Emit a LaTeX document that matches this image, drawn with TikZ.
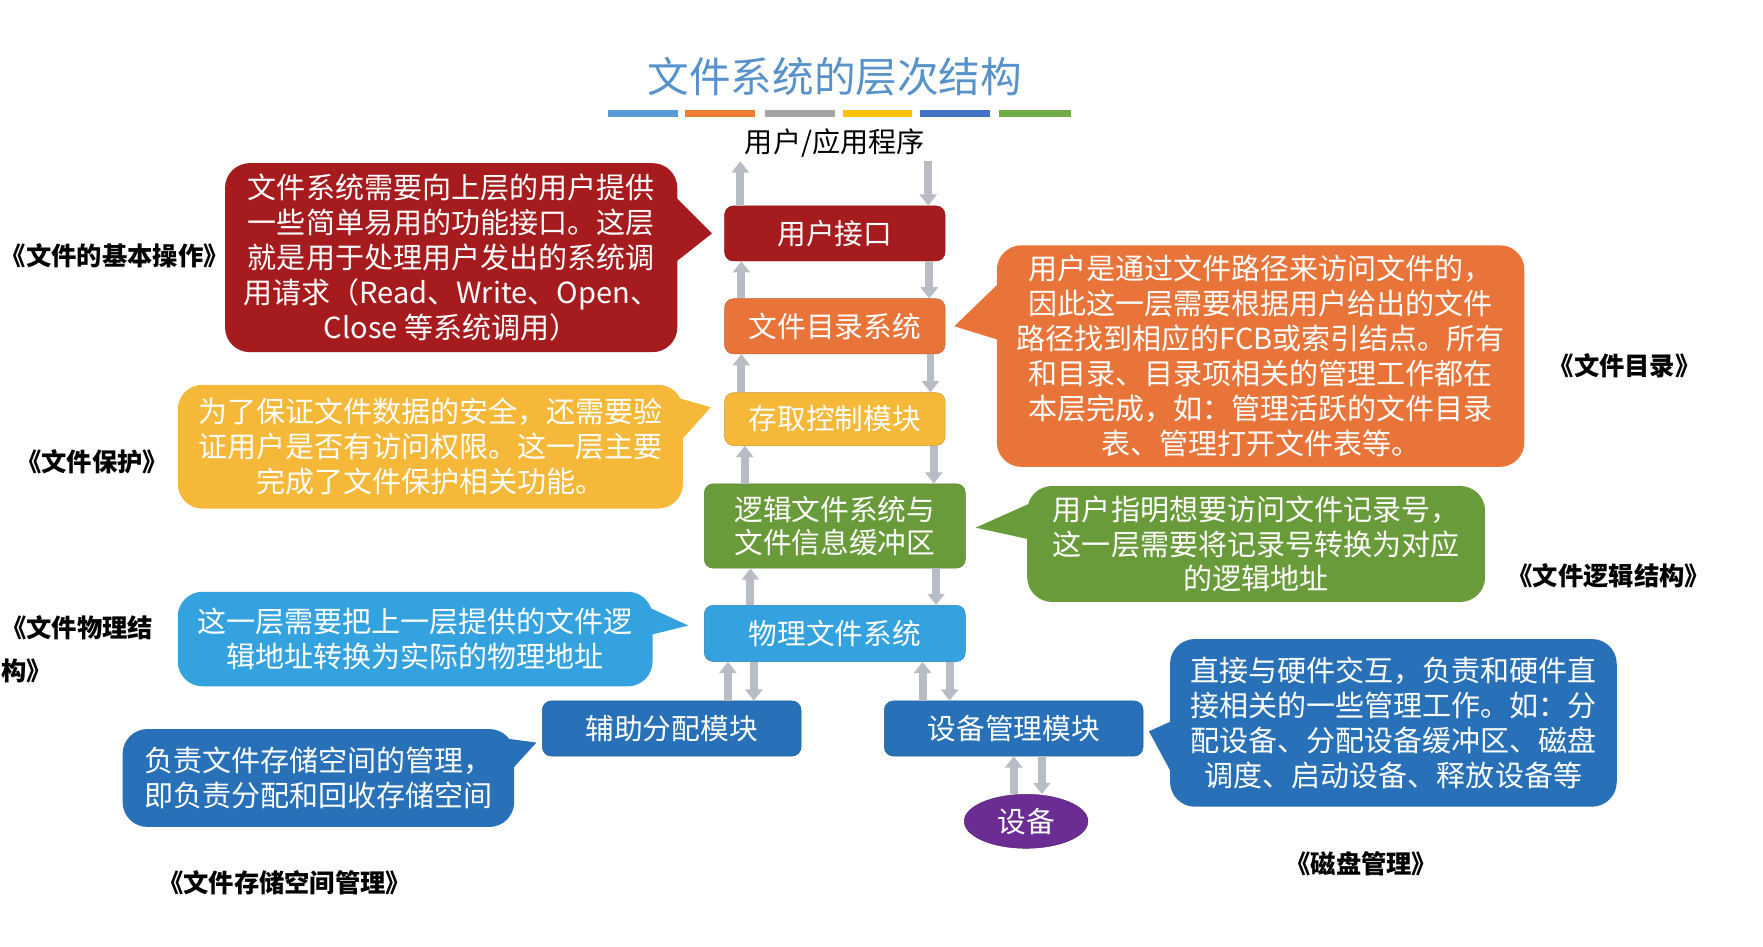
\documentclass[tikz,border=0pt]{standalone}
\usepackage{fontspec}
\newfontfamily\cjk{Noto Sans CJK SC}
\usetikzlibrary{arrows.meta,calc,shapes.geometric}
\definecolor{cTitle}{RGB}{88,146,202}
\definecolor{cRed}{RGB}{166,28,30}
\definecolor{cOrange}{RGB}{232,116,58}
\definecolor{cYellow}{RGB}{245,184,56}
\definecolor{cGreen}{RGB}{106,155,59}
\definecolor{cSky}{RGB}{53,162,224}
\definecolor{cBlue}{RGB}{40,113,184}
\definecolor{cPurple}{RGB}{107,44,148}
\definecolor{cPipe}{RGB}{184,188,196}
\definecolor{cBar1}{RGB}{91,155,213}
\definecolor{cBar2}{RGB}{237,125,49}
\definecolor{cBar3}{RGB}{165,165,165}
\definecolor{cBar4}{RGB}{255,192,0}
\definecolor{cBar5}{RGB}{68,114,196}
\definecolor{cBar6}{RGB}{112,173,71}

\begin{document}
\begin{tikzpicture}[x=1pt,y=-1pt,
    box/.style={fill=#1, draw=#1!80!black, rounded corners=8pt, text=white, inner sep=0pt,
      minimum width=196pt, minimum height=49pt, align=center, font=\cjk\fontsize{25.5}{30}\selectfont},
    tip/.style={fill=#1, rounded corners=22pt, text=white, inner sep=0pt, align=center,
      font=\cjk\fontsize{25.8}{31}\selectfont},
    side/.style={text=black, align=left, inner sep=0pt, font=\cjk\bfseries\fontsize{22.5}{39}\selectfont},
    pipe/.style={draw=cPipe, line width=7pt, -{Triangle[length=10pt,width=15pt]}}]
    \useasboundingbox (0,0) rectangle (1567,841);

    \node (T) [text=cTitle, font=\cjk\fontsize{37}{40}\selectfont] at (742,68) {文件系统的层次结构};
    \fill[cBar1] (540,98) rectangle (603,104);
    \fill[cBar2] (609,98) rectangle (671,104);
    \fill[cBar3] (680,98) rectangle (742,104);
    \fill[cBar4] (749,98) rectangle (811,104);
    \fill[cBar5] (818,98) rectangle (880,104);
    \fill[cBar6] (888,98) rectangle (952,104);
    \node (APP) [font=\cjk\fontsize{25}{30}\selectfont] at (742,127) {用户/应用程序};

    \node (UI) [box=cRed] at (742,207.5) {用户接口};
    \node (DIR) [box=cOrange] at (742,290) {文件目录系统};
    \node (ACC) [box=cYellow, minimum height=47pt] at (742,372.5) {存取控制模块};
    \node (LOG) [box=cGreen, minimum width=232pt, minimum height=75pt] at (742,467.5) {逻辑文件系统与\\文件信息缓冲区};
    \node (PHY) [box=cSky, minimum width=232pt, minimum height=50pt] at (742,563) {物理文件系统};
    \node (AUX) [box=cBlue, minimum width=230pt] at (597,647.5) {辅助分配模块};
    \node (DEV) [box=cBlue, minimum width=230pt] at (901,647.5) {设备管理模块};
    \node (DISK) [ellipse, fill=cPurple, draw=cPurple!80!black, text=white, inner sep=0pt,
      minimum width=110pt, minimum height=48pt, font=\cjk\fontsize{25.5}{30}\selectfont] at (912,730) {设备};

    \draw[pipe] (658,0 |- UI.north) -- (658,0 |- APP.south);
    \draw[pipe] (825,0 |- APP.south) -- (825,0 |- UI.north);
    \draw[pipe] (659,0 |- DIR.north) -- (659,0 |- UI.south);
    \draw[pipe] (826,0 |- UI.south) -- (826,0 |- DIR.north);
    \draw[pipe] (659,0 |- ACC.north) -- (659,0 |- DIR.south);
    \draw[pipe] (827,0 |- DIR.south) -- (827,0 |- ACC.north);
    \draw[pipe] (662,0 |- LOG.north) -- (662,0 |- ACC.south);
    \draw[pipe] (830,0 |- ACC.south) -- (830,0 |- LOG.north);
    \draw[pipe] (667,0 |- PHY.north) -- (667,0 |- LOG.south);
    \draw[pipe] (832,0 |- LOG.south) -- (832,0 |- PHY.north);
    \draw[pipe] (647,0 |- AUX.north) -- (647,0 |- PHY.south);
    \draw[pipe] (670,0 |- PHY.south) -- (670,0 |- AUX.north);
    \draw[pipe] (820,0 |- DEV.north) -- (820,0 |- PHY.south);
    \draw[pipe] (844,0 |- PHY.south) -- (844,0 |- DEV.north);
    \draw[pipe] (901,0 |- DISK.north) -- (901,0 |- DEV.south);
    \draw[pipe] (926,0 |- DEV.south) -- (926,0 |- DISK.north);

    % callouts
    \node (CR) [tip=cRed, minimum width=402pt, minimum height=168pt] at (401,229)
      {文件系统需要向上层的用户提供\\一些简单易用的功能接口。这层\\就是用于处理用户发出的系统调\\用请求（Read、Write、Open、\\Close 等系统调用）};
    \fill[cRed] ($(CR.north east)+(-7,25)$) -- ($(UI.west)+(-11,0)$) -- ($(CR.north east)+(-4,90)$) -- cycle;
    \node (CO) [tip=cOrange, minimum width=469pt, minimum height=197pt] at (1120.5,316.5)
      {用户是通过文件路径来访问文件的，\\因此这一层需要根据用户给出的文件\\路径找到相应的FCB或索引结点。所有\\和目录、目录项相关的管理工作都在\\本层完成，如：管理活跃的文件目录\\表、管理打开文件表等。};
    \fill[cOrange] ($(CO.north west)+(4,32)$) -- ($(DIR.east)+(8,0)$) -- ($(CO.north west)+(4,85)$) -- cycle;
    \node (CY) [tip=cYellow, minimum width=449pt, minimum height=110pt] at (382.5,397)
      {为了保证文件数据的安全，还需要验\\证用户是否有访问权限。这一层主要\\完成了文件保护相关功能。};
    \fill[cYellow] ($(CY.north east)+(-11,10)$) -- ($(ACC.west)+(-12,-10.5)$) -- ($(CY.north east)+(-4,52)$) -- cycle;
    \node (CG) [tip=cGreen, minimum width=407pt, minimum height=103pt] at (1116.5,483.5)
      {用户指明想要访问文件记录号，\\这一层需要将记录号转换为对应\\的逻辑地址};
    \fill[cGreen] ($(CG.north west)+(4,15)$) -- ($(LOG.east)+(9,1.5)$) -- ($(CG.north west)+(4,48)$) -- cycle;
    \node (CS) [tip=cSky, minimum width=422pt, minimum height=84pt] at (369,568)
      {这一层需要把上一层提供的文件逻\\辑地址转换为实际的物理地址};
    \fill[cSky] ($(CS.north east)+(-8,12)$) -- ($(PHY.west)+(-14,-7)$) -- ($(CS.north east)+(-4,39)$) -- cycle;
    \node (CB) [tip=cBlue, minimum width=348pt, minimum height=87pt, align=left] at (283,691.5)
      {负责文件存储空间的管理，\\即负责分配和回收存储空间};
    \fill[cBlue] ($(CB.north east)+(-12,8)$) -- ($(AUX.west)+(-5,12.5)$) -- ($(CB.north east)+(-4,38)$) -- cycle;
    \node (CD) [tip=cBlue, minimum width=397pt, minimum height=149pt] at (1238.5,642.5)
      {直接与硬件交互，负责和硬件直\\接相关的一些管理工作。如：分\\配设备、分配设备缓冲区、磁盘\\调度、启动设备、释放设备等};
    \fill[cBlue] ($(CD.north west)+(4,72)$) -- ($(DEV.east)+(5,2.5)$) -- ($(CD.north west)+(4,124)$) -- cycle;

    \node (L1) [side] at (102,227) {《文件的基本操作》};
    \node (L2) [side] at (82,410) {《文件保护》};
    \node (L3) [side, anchor=west] at (1,577) {《文件物理结\\构》};
    \node (L4) [side] at (253,785) {《文件存储空间管理》};
    \node (L5) [side] at (1444,325) {《文件目录》};
    \node (L6) [side] at (1430,512) {《文件逻辑结构》};
    \node (L7) [side] at (1210,768) {《磁盘管理》};
\end{tikzpicture}
\end{document}
